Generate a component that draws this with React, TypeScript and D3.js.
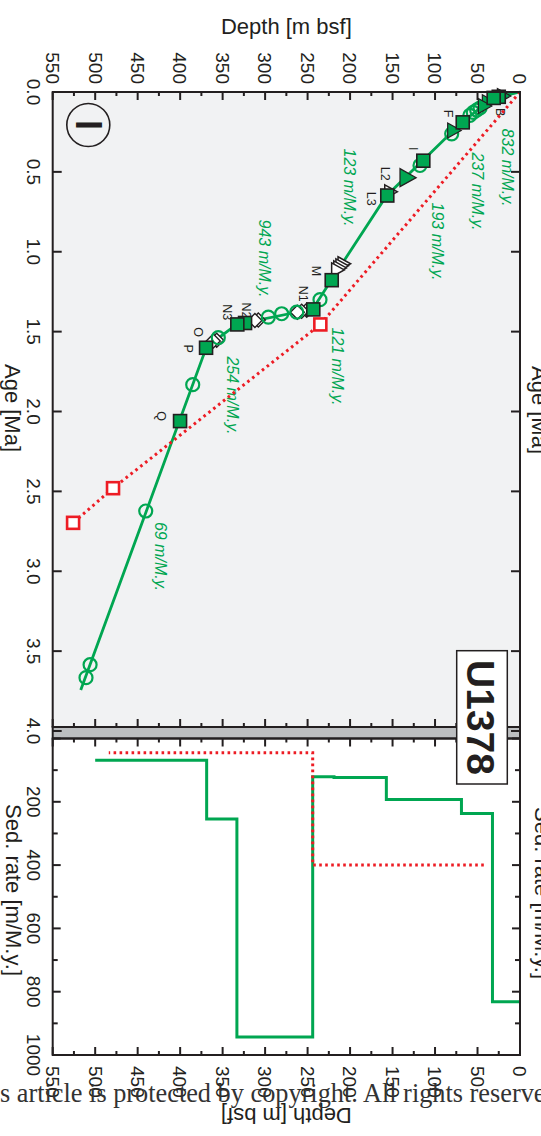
import React from 'react';
import * as d3 from 'd3';

const W = 541;
const H = 1136;

// Green age model: tie points (depth m bsf, age Ma)
const modelDepth = [0, 32.4, 68.9, 157.3, 218.9, 244, 333.2, 368.8, 517];
const modelAge = [0, 0.039, 0.193, 0.651, 1.152, 1.359, 1.454, 1.594, 3.744];

// Red dotted alternative model
const altDepth = [0, 235, 479, 526];
const altAge = [0, 1.455, 2.48, 2.697];

// Sedimentation-rate steps (green)
const rateEdges = [0, 32.4, 68.9, 157.3, 218.9, 244, 333.2, 368.8, 500];
const rates = [832, 237, 193, 123, 121, 943, 254, 69];
// Sedimentation-rate steps (red dotted)
const altRateEdges = [42.6, 244, 484];
const altRates = [400, 45];

// Rate label anchors (depth, age), one per rate segment
const rateLabelDepth = [14.1, 49.4, 96.5, 200, 214.8, 300, 338.4, 422.5];
const rateLabelAge = [0.473, 0.623, 0.936, 0.598, 1.718, 1.042, 1.899, 2.907];

// Datums
const squareDepth = [25, 31, 67.4, 113.8, 156.2, 221.6, 243.3, 323.6, 332.7, 369.5, 400.1];
const squareAge = [0.03, 0.037, 0.19, 0.43, 0.648, 1.178, 1.361, 1.446, 1.455, 1.601, 2.06];
const triDepth = [20, 37.7, 42.4, 78.5, 133.3];
const triAge = [0.025, 0.064, 0.088, 0.241, 0.536];
const triSize = [7.5, 7.5, 7.5, 7.5, 9];
const circleDepth = [47, 51, 55, 59, 80.4, 117.7, 235.4, 262.8, 280.5, 296.2, 355.1, 385.2, 440.5, 506, 510.8];
const circleAge = [0.1, 0.113, 0.128, 0.146, 0.262, 0.46, 1.3, 1.378, 1.388, 1.409, 1.538, 1.832, 2.623, 3.585, 3.666];
const diamondDepth = [251, 257, 262, 308, 312, 357, 361];
const diamondAge = [1.366, 1.372, 1.378, 1.427, 1.431, 1.554, 1.558];
const outlineTriDepth = [153, 208, 210.5, 213, 215.5];
const outlineTriAge = [0.625, 1.075, 1.088, 1.101, 1.114];

const datumNames = ['B', 'F', 'I', 'L2', 'L3', 'M', 'N1', 'N2', 'N3', 'O', 'P', 'Q'];
const datumLabelDepth = [23.5, 84.7, 125.4, 158.9, 174.6, 239.2, 254.9, 321.6, 344.5, 378.4, 390.2, 421.6];
const datumLabelAge = [0.126, 0.135, 0.355, 0.512, 0.668, 1.12, 1.263, 1.368, 1.378, 1.503, 1.607, 2.029];

const depthTicks = d3.range(0, 551, 25);
const ageTicks = d3.range(0, 4.01, 0.5);
const rateTicks = d3.range(0, 1001, 100);

const GREEN = '#00a651';
const RED = '#ed1c24';
const INK = '#231f20';
const SANS = '"Liberation Sans", Arial, Helvetica, sans-serif';

export default function App() {
  const left = 52.7;
  const right = 520;
  const ageTop = 92;
  const ageBottom = 727;
  const bandBottom = 738.5;
  const rateBottom = 1055;

  const x = d3.scaleLinear().domain([0, 550]).range([right, left]);
  const y = d3.scaleLinear().domain([0, 4]).range([ageTop, 731]);
  const r = d3.scaleLinear().domain([0, 1000]).range([bandBottom, rateBottom]);

  const modelLine = d3.line<number>()
    .x((_, i) => x(modelDepth[i]))
    .y((_, i) => y(modelAge[i]))(modelDepth) as string;
  const altLine = d3.line<number>()
    .x((_, i) => x(altDepth[i]))
    .y((_, i) => y(altAge[i]))(altDepth) as string;

  const stepPath = (edges: number[], vals: number[]) => {
    const pts: [number, number][] = [];
    vals.forEach((v, i) => {
      pts.push([x(edges[i]), r(v)]);
      pts.push([x(edges[i + 1]), r(v)]);
    });
    return d3.line()(pts) as string;
  };

  const rot = (px: number, py: number, deg = 90) => `translate(${px},${py}) rotate(${deg})`;
  const tri = (s: number) => `M${-s * 0.75},${-s} L${s * 1.05},0 L${-s * 0.75},${s} Z`;
  const diamond = 'M0,-7 L7,0 L0,7 L-7,0 Z';

  const hTicks = (yy: number, dir: number) =>
    depthTicks.map((d) => {
      const len = d % 50 === 0 ? 8 : 4;
      return <line key={`h${yy}-${d}`} x1={x(d)} x2={x(d)} y1={yy} y2={yy + dir * len} stroke={INK} strokeWidth={2} />;
    });

  return (
    <div style={{ position: 'absolute', left: 0, top: 0 }}>
      <svg width={W} height={H} viewBox={`0 0 ${W} ${H}`} style={{ display: 'block', background: '#fff', overflow: 'hidden' }}>
        {/* age panel background */}
        <rect x={left} y={ageTop} width={right - left} height={ageBottom - ageTop} fill="#f1f2f3" />
        {/* band between panels */}
        <rect x={left} y={ageBottom} width={right - left} height={bandBottom - ageBottom} fill="#bcbec0" />

        {/* axis titles */}
        <text x={x(275)} y={34} textAnchor="middle" fontFamily={SANS} fontSize={22} fill={INK}>Depth [m bsf]</text>
        <text transform={rot(x(275), 1108, 180)} textAnchor="middle" fontFamily={SANS} fontSize={22} fill={INK}>Depth [m bsf]</text>
        <text transform={rot(5, 408)} textAnchor="middle" fontFamily={SANS} fontSize={22} fill={INK}>Age [Ma]</text>
        <text transform={rot(6, 890)} textAnchor="middle" fontFamily={SANS} fontSize={22} fill={INK}>Sed. rate [m/M.y.]</text>
        <text transform={rot(532, 410)} textAnchor="middle" fontFamily={SANS} fontSize={22} fill={INK}>Age [Ma]</text>
        <text transform={rot(535, 893)} textAnchor="middle" fontFamily={SANS} fontSize={22} fill={INK}>Sed. rate [m/M.y.]</text>

        {/* depth tick labels */}
        {depthTicks.filter((d) => d % 50 === 0).map((d) => (
          <text key={`dt${d}`} transform={rot(x(d), 84)} dy="0.35em" textAnchor="end" fontFamily={SANS} fontSize={19} fill={INK}>{d}</text>
        ))}
        {depthTicks.filter((d) => d % 50 === 0).map((d) => (
          <text key={`db${d}`} transform={rot(x(d), 1066)} dy="0.35em" textAnchor="start" fontFamily={SANS} fontSize={19} fill={INK}>{d}</text>
        ))}
        {/* age tick labels */}
        {ageTicks.map((a) => (
          <text key={`at${a}`} transform={rot(34, y(a))} dy="0.35em" textAnchor="middle" fontFamily={SANS} fontSize={19} fill={INK}>{d3.format('.1f')(a)}</text>
        ))}
        {/* rate tick labels */}
        {rateTicks.filter((v) => v > 0 && v % 200 === 0).map((v) => (
          <text key={`rt${v}`} transform={rot(34, r(v))} dy="0.35em" textAnchor="middle" fontFamily={SANS} fontSize={19} fill={INK}>{v}</text>
        ))}

        {/* ticks */}
        {hTicks(ageTop, 1)}
        {hTicks(ageBottom, -1)}
        {hTicks(bandBottom, 1)}
        {hTicks(rateBottom, -1)}
        {ageTicks.map((a) => (
          <g key={`ak${a}`}>
            <line x1={left} x2={left + 9} y1={y(a)} y2={y(a)} stroke={INK} strokeWidth={2} />
            <line x1={right} x2={right - 9} y1={y(a)} y2={y(a)} stroke={INK} strokeWidth={2} />
          </g>
        ))}
        {rateTicks.map((v) => {
          const len = v % 200 === 0 ? 8 : 5;
          return (
            <g key={`rk${v}`}>
              <line x1={left} x2={left + len} y1={r(v)} y2={r(v)} stroke={INK} strokeWidth={2} />
              <line x1={right} x2={right - len} y1={r(v)} y2={r(v)} stroke={INK} strokeWidth={2} />
            </g>
          );
        })}

        {/* panel label */}
        <circle cx={88.3} cy={125} r={21.5} fill="none" stroke={INK} strokeWidth={1.6} />
        <text transform={rot(88.3, 125)} dy="0.35em" textAnchor="middle" fontFamily={SANS} fontWeight="bold" fontSize={36} fill={INK}>I</text>

        {/* rate labels */}
        {rates.map((v, i) => (
          <text key={`rl${i}`} transform={rot(x(rateLabelDepth[i]), y(rateLabelAge[i]))} dy="0.35em" textAnchor="middle"
            fontFamily={SANS} fontStyle="italic" fontSize={16} fill={GREEN}>{`${v} m/M.y.`}</text>
        ))}

        {/* datum labels */}
        {datumNames.map((n, i) => (
          <text key={`dl${n}`} transform={rot(x(datumLabelDepth[i]), y(datumLabelAge[i]))} dy="0.35em" textAnchor="middle"
            fontFamily={SANS} fontSize={12.5} fill={INK}>{n}</text>
        ))}

        {/* age models */}
        <path d={modelLine} fill="none" stroke={GREEN} strokeWidth={2.8} />
        <path d={altLine} fill="none" stroke={RED} strokeWidth={3} strokeDasharray="2.6 3.6" />

        {/* datum markers */}
        {outlineTriDepth.map((d, i) => (
          <path key={`ot${i}`} d={tri(7)} transform={`translate(${x(d)},${y(outlineTriAge[i])})`} fill="#fff" stroke={INK} strokeWidth={1.5} />
        ))}
        {diamondDepth.map((d, i) => (
          <path key={`dm${i}`} d={diamond} transform={`translate(${x(d)},${y(diamondAge[i])})`} fill="#fff" stroke={INK} strokeWidth={1.4} />
        ))}
        {circleDepth.map((d, i) => (
          <circle key={`c${i}`} cx={x(d)} cy={y(circleAge[i])} r={6.5} fill="none" stroke={GREEN} strokeWidth={2.2} />
        ))}
        {triDepth.map((d, i) => (
          <path key={`t${i}`} d={tri(triSize[i])} transform={`translate(${x(d)},${y(triAge[i])})`} fill={GREEN} stroke={INK} strokeWidth={1.2} />
        ))}
        {squareDepth.map((d, i) => (
          <rect key={`s${i}`} x={x(d) - 6.5} y={y(squareAge[i]) - 6.5} width={13} height={13} fill={GREEN} stroke={INK} strokeWidth={1.6} />
        ))}
        {altDepth.slice(1).map((d, i) => (
          <rect key={`rs${i}`} x={x(d) - 6} y={y(altAge[i + 1]) - 6} width={12} height={12} fill="#fff" stroke={RED} strokeWidth={2.6} />
        ))}

        {/* sedimentation rates */}
        <path d={stepPath(rateEdges, rates)} fill="none" stroke={GREEN} strokeWidth={3} />
        <path d={stepPath(altRateEdges, altRates)} fill="none" stroke={RED} strokeWidth={3} strokeDasharray="2.6 3.4" />

        {/* frames */}
        <rect x={left} y={ageTop} width={right - left} height={ageBottom - ageTop} fill="none" stroke={INK} strokeWidth={2} />
        <rect x={left} y={ageBottom} width={right - left} height={bandBottom - ageBottom} fill="none" stroke={INK} strokeWidth={2} />
        <rect x={left} y={bandBottom} width={right - left} height={rateBottom - bandBottom} fill="none" stroke={INK} strokeWidth={2} />

        {/* site label */}
        <rect x={456.7} y={650.7} width={50.6} height={133.3} fill="#fff" stroke={INK} strokeWidth={1.5} />
        <text transform={rot(481.5, 717.5)} dy="0.36em" textAnchor="middle" fontFamily={SANS} fontWeight="bold" fontSize={39} fill={INK}>U1378</text>

        {/* page footer */}
        <text x={0} y={1102} fontFamily='"Liberation Serif", "Times New Roman", serif' fontSize={26.3} fill="#333">s article is protected by copyright. All rights reserved.</text>
      </svg>
    </div>
  );
}
